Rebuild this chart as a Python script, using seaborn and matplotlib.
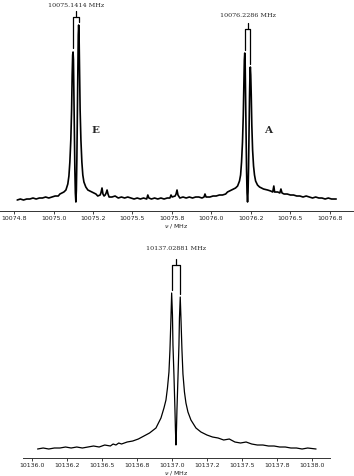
import seaborn as sns
import matplotlib.pyplot as plt
import pandas as pd
from matplotlib.ticker import MultipleLocator, FormatStrFormatter

# Rotational transitions (arb. intensity)

# upper trace: E / A doublets
top_freq = [
    10074.77, 10074.79, 10074.81, 10074.83, 10074.85, 10074.87, 10074.89, 10074.91,
    10074.93, 10074.95, 10074.97, 10074.99, 10075.01, 10075.03,
    # E component
    10075.0404, 10075.0654, 10075.0784, 10075.0904, 10075.0974, 10075.1034, 10075.1094,
    10075.1144, 10075.1180, 10075.1211, 10075.1237, 10075.1262, 10075.1287, 10075.1319,
    10075.1351, 10075.1382, 10075.1414, 10075.1446, 10075.1477, 10075.1509, 10075.1541,
    10075.1566, 10075.1591, 10075.1617, 10075.1648, 10075.1684, 10075.1734, 10075.1794,
    10075.1854, 10075.1924, 10075.2044, 10075.2174, 10075.2424, 10075.2684,
    # baseline between
    10075.280, 10075.295, 10075.300, 10075.307, 10075.313, 10075.320, 10075.327, 10075.333,
    10075.339, 10075.345, 10075.352, 10075.37, 10075.39, 10075.41, 10075.43, 10075.45,
    10075.47, 10075.49, 10075.51, 10075.53, 10075.55, 10075.57, 10075.59, 10075.597,
    10075.604, 10075.62, 10075.64, 10075.66, 10075.68, 10075.70, 10075.72, 10075.737,
    10075.744, 10075.751, 10075.77, 10075.776, 10075.782, 10075.788, 10075.80, 10075.82,
    10075.84, 10075.86, 10075.88, 10075.90, 10075.92, 10075.94, 10075.953, 10075.959,
    10075.966, 10075.99, 10076.01, 10076.03, 10076.05, 10076.07, 10076.09,
    # A component
    10076.1016, 10076.1276, 10076.1526, 10076.1656, 10076.1776, 10076.1846, 10076.1906,
    10076.1966, 10076.2016, 10076.2052, 10076.2083, 10076.2109, 10076.2134, 10076.2159,
    10076.2191, 10076.2223, 10076.2254, 10076.2286, 10076.2318, 10076.2349, 10076.2381,
    10076.2413, 10076.2438, 10076.2463, 10076.2489, 10076.2520, 10076.2556, 10076.2606,
    10076.2666, 10076.2726, 10076.2796, 10076.2916, 10076.3046, 10076.3296, 10076.3556,
    # right baseline
    10076.375, 10076.388, 10076.395, 10076.400, 10076.42, 10076.433, 10076.44, 10076.447,
    10076.46, 10076.48, 10076.50, 10076.52, 10076.54, 10076.56, 10076.58, 10076.60,
    10076.62, 10076.64, 10076.66, 10076.68, 10076.70, 10076.72, 10076.74, 10076.76, 10076.79,
]
top_int = [
    11, 12, 11, 12, 12, 13, 12, 13, 13, 14, 13, 14, 15, 15,
    17, 19, 21, 27, 35, 49, 71, 101, 136, 156, 159, 151, 121, 76, 41, 18, 9,
    21, 51, 96, 146, 176, 186, 176, 141, 101, 71, 49, 36, 29, 24, 21, 19, 17,
    15, 16, 18, 23, 17, 15, 16, 18, 21, 17, 14, 14, 15, 13, 14, 13,
    14, 13, 12, 13, 12, 13, 12, 16, 13, 12, 13, 12, 13, 12, 13, 13,
    16, 14, 15, 17, 21, 16, 13, 14, 13, 14, 13, 14, 14, 13, 14, 17,
    14, 14, 15, 15, 16, 16, 17,
    19, 21, 23, 25, 30, 36, 49, 69, 96, 126, 151, 158, 149, 119, 76, 41, 18, 9,
    19, 43, 81, 116, 136, 144, 136, 116, 86, 61, 45, 36, 30, 26, 24, 22, 21,
    20, 19, 25, 19, 19, 18, 22, 18, 17, 17, 16, 16, 15, 15, 14, 15,
    14, 13, 14, 13, 13, 12, 13, 12, 12,
]

# lower trace: single doublet
bot_freq = [
    10136.04, 10136.08, 10136.12, 10136.16, 10136.20, 10136.24, 10136.28, 10136.32,
    10136.36, 10136.40, 10136.44, 10136.48, 10136.52, 10136.56, 10136.58, 10136.60,
    10136.62, 10136.64, 10136.68, 10136.72, 10136.76, 10136.80, 10136.84,
    10136.8859, 10136.9217, 10136.9431, 10136.9574, 10136.9681, 10136.9788, 10136.9859,
    10136.9931, 10136.9981, 10137.0038, 10137.0074, 10137.0145, 10137.0217, 10137.0252,
    10137.0288, 10137.0324, 10137.0359, 10137.0431, 10137.0502, 10137.0538, 10137.0595,
    10137.0645, 10137.0717, 10137.0788, 10137.0895, 10137.1002, 10137.1145, 10137.1359,
    10137.1717, 10137.2074, 10137.2502,
    10137.29, 10137.33, 10137.37, 10137.41, 10137.45, 10137.49, 10137.53, 10137.57,
    10137.61, 10137.65, 10137.69, 10137.73, 10137.77, 10137.81, 10137.85, 10137.89,
    10137.93, 10137.97, 10138.03,
]
bot_int = [
    9, 10, 9, 10, 10, 11, 10, 11, 10, 11, 12, 11, 13, 12, 14, 13, 15, 14, 16, 17, 19, 22, 25,
    30, 40, 50, 58, 70, 86, 108, 140, 165, 143, 113, 83, 48, 28, 13,
    28, 48, 80, 113, 140, 161, 140, 108, 84, 66, 55, 46, 38, 30, 26, 23,
    21, 20, 18, 19, 16, 15, 16, 14, 13, 13, 12, 12, 11, 11, 10, 10, 9, 10, 9,
]

# doublet labels: centre, left/right component, bracket top, leg ends
labels = ["10075.1414 MHz", "10076.2286 MHz", "10137.02881 MHz"]
centres = [10075.1414, 10076.2286, 10137.02881]
comp_lo = [10075.1237, 10076.2109, 10136.9981]
comp_hi = [10075.1591, 10076.2463, 10137.0595]
bracket_top = [194, 182, 193]
leg_lo_end = [163, 161, 168]
leg_hi_end = [189, 147, 164]

sns.set_style("ticks")
plt.rcParams["font.family"] = ["DejaVu Sans"]

fig = plt.figure(figsize=(3.54, 4.76), dpi=100)
ax1 = fig.add_axes([0.0, 0.5567, 0.997, 0.4433])
ax2 = fig.add_axes([0.065, 0.0378, 0.867, 0.4622])

top = pd.DataFrame({"freq": top_freq, "intensity": top_int})
bot = pd.DataFrame({"freq": bot_freq, "intensity": bot_int})
sns.lineplot(data=top, x="freq", y="intensity", ax=ax1, color="black",
             linewidth=1.2, estimator=None)
sns.lineplot(data=bot, x="freq", y="intensity", ax=ax2, color="black",
             linewidth=0.9, estimator=None)

ax1.set_xlim(10074.661, 10076.896)
ax1.set_ylim(0, 211)
ax2.set_xlim(10135.936, 10138.129)
ax2.set_ylim(0, 220)

for ax in (ax1, ax2):
    sns.despine(ax=ax, left=True)
    ax.set_yticks([])
    ax.set_ylabel("")
    ax.xaxis.set_major_locator(MultipleLocator(0.25))
    ax.xaxis.set_major_formatter(FormatStrFormatter("%.1f"))
    ax.tick_params(axis="x", labelsize=4.5, length=2, width=0.6, pad=1.5,
                   colors="#222222")
    ax.spines["bottom"].set_linewidth(0.7)
    ax.spines["bottom"].set_color("#333333")
    ax.set_xlabel("$\\nu$ / MHz", fontsize=4.5, labelpad=0.5, color="#222222")

# brackets over the doublets
axes_for = [ax1, ax1, ax2]
label_y = [206, 196, 210]
for i, ax in enumerate(axes_for):
    t = bracket_top[i]
    ax.plot([comp_lo[i], comp_lo[i], comp_hi[i], comp_hi[i]],
            [leg_lo_end[i], t, t, leg_hi_end[i]], color="black", lw=0.9,
            clip_on=False)
    ax.plot([centres[i], centres[i]], [t, t + 6], color="black", lw=0.9,
            clip_on=False)
    ax.text(centres[i], label_y[i], labels[i], ha="center", va="center",
            fontsize=4.6, family="DejaVu Serif", clip_on=False)

ax1.text(10075.263, 81, "E", ha="center", va="center", fontsize=7.5,
         fontweight="bold", family="DejaVu Serif")
ax1.text(10076.357, 81, "A", ha="center", va="center", fontsize=7.5,
         fontweight="bold", family="DejaVu Serif")

fig.savefig("out.png", dpi=100)
